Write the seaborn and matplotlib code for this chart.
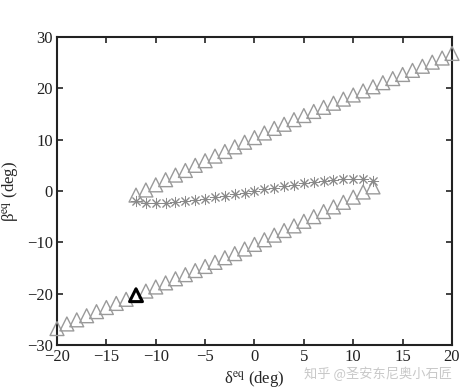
import numpy as np
import pandas as pd
import seaborn as sns
import matplotlib.pyplot as plt

# equilibrium branches (deg)
upper_delta = list(range(-12, 21))
upper_beta = [-0.8, 0.2, 1.2, 2.2, 3.1, 4.0, 5.0, 5.9, 6.8, 7.7, 8.6, 9.5, 10.4,
              11.3, 12.2, 13.0, 13.9, 14.7, 15.5, 16.3, 17.1, 17.9, 18.7, 19.5,
              20.3, 21.1, 21.9, 22.7, 23.5, 24.3, 25.1, 25.9, 26.8]

lower_delta = list(range(-20, 13))
lower_beta = [-26.8, -25.9, -25.1, -24.3, -23.5, -22.7, -21.9, -21.1, -20.3,
              -19.5, -18.7, -17.9, -17.1, -16.3, -15.5, -14.7, -13.9, -13.0,
              -12.2, -11.3, -10.4, -9.5, -8.6, -7.7, -6.8, -5.9, -5.0, -4.0,
              -3.1, -2.2, -1.2, -0.2, 0.8]

mid_delta = list(range(-12, 13))
mid_beta = [-2.0, -2.3, -2.4, -2.3, -2.2, -2.0, -1.8, -1.5, -1.2, -0.9, -0.6,
            -0.3, 0.0, 0.3, 0.6, 0.9, 1.2, 1.5, 1.8, 2.0, 2.2, 2.3, 2.4, 2.3, 2.0]

trim_delta = [-12]
trim_beta = [-20.3]

sns.set_theme(style="ticks")
plt.rcParams['font.family'] = ['Liberation Serif', 'DejaVu Serif']
plt.rcParams['mathtext.fontset'] = 'stix'

fig = plt.figure(figsize=(4.68, 3.92), dpi=100)
ax = fig.add_axes([0.1218, 0.1199, 0.844, 0.7857])

tri = pd.DataFrame({"delta": upper_delta + lower_delta,
                    "beta": upper_beta + lower_beta})
stars = pd.DataFrame({"delta": mid_delta, "beta": mid_beta})

sns.scatterplot(data=tri, x="delta", y="beta", marker="^", s=100,
                facecolor="none", edgecolor="#9a9a9a", linewidth=1.0,
                ax=ax, zorder=3, clip_on=False)
sns.scatterplot(data=stars, x="delta", y="beta", marker=(8, 2, 0), s=55,
                color="#8a8a8a", linewidth=0.7, ax=ax, zorder=3)
sns.scatterplot(x=trim_delta, y=trim_beta, marker="^", s=85,
                facecolor="none", edgecolor="black", linewidth=2.2,
                ax=ax, zorder=4)

ax.set_xlim(-20, 20)
ax.set_ylim(-30, 30)
ax.set_xticks(range(-20, 21, 5))
ax.set_yticks(range(-30, 31, 10))
ax.tick_params(direction="in", top=True, right=True, length=4, width=1.2,
               labelsize=12, colors="#222222", pad=3)
for sp in ax.spines.values():
    sp.set_linewidth(1.5)
    sp.set_color("#222222")
    sp.set_visible(True)

ax.set_xlabel("δ$^{\\rm eq}$ (deg)", fontsize=12, labelpad=3)
ax.set_ylabel("β$^{\\rm eq}$ (deg)", fontsize=12, labelpad=4)

fig.text(0.966, 0.035, "知乎 @圣安东尼奥小石匠", fontsize=9.5, color="#c8c8c8",
         ha="right", family=["Noto Sans CJK SC", "DejaVu Sans"])

fig.savefig("out.png", dpi=100, facecolor="white")
